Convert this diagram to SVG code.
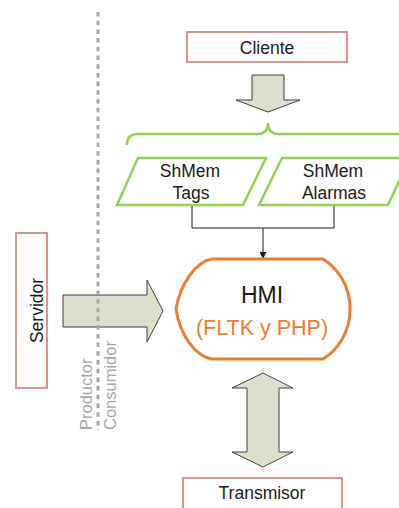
<svg xmlns="http://www.w3.org/2000/svg" width="399" height="508" viewBox="0 0 399 508">
  <style>
    .lbl { font-family: "Liberation Sans", Arial, sans-serif; font-size: 17.5px; fill: #1a1a1a; text-anchor: middle; }
    .box { fill: #ffffff; stroke: #D99694; stroke-width: 2; }
    .mem { fill: #ffffff; stroke: #92D050; stroke-width: 2.5; stroke-linejoin: miter; }
    .block { fill: #DCDFCE; stroke: #3F3F3F; stroke-width: 1; stroke-linejoin: miter; }
    .side { font-family: "Liberation Sans", Arial, sans-serif; font-size: 16.5px; fill: #A6A6A6; }
    .wire { fill: none; stroke: #1a1a1a; stroke-width: 1; }
  </style>
  <defs>
    <marker id="tip" viewBox="0 0 10 10" refX="10" refY="5" markerWidth="7" markerHeight="7" markerUnits="userSpaceOnUse" orient="auto">
      <path d="M0,0 L10,5 L0,10 Z" fill="#1a1a1a"/>
    </marker>
  </defs>

  <rect width="399" height="508" fill="#ffffff"/>

  <g id="connectors">
    <!-- Cliente to shared memory -->
    <path class="block" d="M252,75 L284,75 L284,100 L300,100 L268,112 L236,100 L252,100 Z"/>
    <!-- Servidor to HMI -->
    <path class="block" d="M63,295 L147,295 L147,280 L163,311 L147,342 L147,327 L63,327 Z"/>
    <!-- HMI to Transmisor -->
    <path class="block" d="M263,373 L293,388 L279,388 L279,452 L293,452 L263,467 L232,452 L247,452 L247,388 L232,388 Z"/>
    <!-- shared memory to HMI -->
    <path class="wire" d="M192,205 L192,228 L334,228 L334,205"/>
    <path class="wire" d="M263,228 L263,259" marker-end="url(#tip)"/>
    <!-- brace grouping the shared memory segments -->
    <path d="M127,145 Q127,134 138,134 L257,134 Q268,134 268,123 Q268,134 279,134 L398,134 Q409,134 409,145" fill="none" stroke="#92D050" stroke-width="2.5"/>
  </g>

  <!-- producer / consumer boundary, drawn over the Servidor arrow -->
  <g id="boundary">
    <line x1="98" y1="12" x2="98" y2="430" stroke="#A6A6A6" stroke-width="3" stroke-dasharray="4.5 4.2"/>
    <text class="side" transform="translate(92,430) rotate(-90)">Productor</text>
    <text class="side" transform="translate(116,430) rotate(-90)">Consumidor</text>
  </g>

  <g id="cliente">
    <rect class="box" x="187" y="32" width="160" height="30"/>
    <text class="lbl" x="267" y="54">Cliente</text>
  </g>

  <g id="shmem-tags">
    <path class="mem" d="M138,158 L266,158 L243,205 L117,205 Z"/>
    <text class="lbl" x="190" y="177">ShMem</text>
    <text class="lbl" x="191" y="199">Tags</text>
  </g>

  <g id="shmem-alarmas">
    <path class="mem" d="M282,158 L410,158 L388,205 L259,205 Z"/>
    <text class="lbl" x="333" y="177">ShMem</text>
    <text class="lbl" x="334" y="199">Alarmas</text>
  </g>

  <g id="servidor">
    <rect class="box" x="16" y="233" width="31" height="155"/>
    <text class="lbl" transform="translate(43,310.5) rotate(-90)">Servidor</text>
  </g>

  <g id="hmi">
    <path d="M212,259 L323,259 A55,58 0 0 1 323,359 L212,359 C195,356 180,335 176,309 C180,285 195,262 212,259 Z" fill="#ffffff" stroke="#ED7D31" stroke-width="3" stroke-linejoin="miter"/>
    <text class="lbl" x="262" y="303" style="font-size:23px">HMI</text>
    <text class="lbl" x="262" y="335" style="font-size:21.5px; fill:#ED7D31">(FLTK y PHP)</text>
  </g>

  <g id="transmisor">
    <rect class="box" x="183" y="478" width="159" height="34"/>
    <text class="lbl" x="262" y="499">Transmisor</text>
  </g>
</svg>
